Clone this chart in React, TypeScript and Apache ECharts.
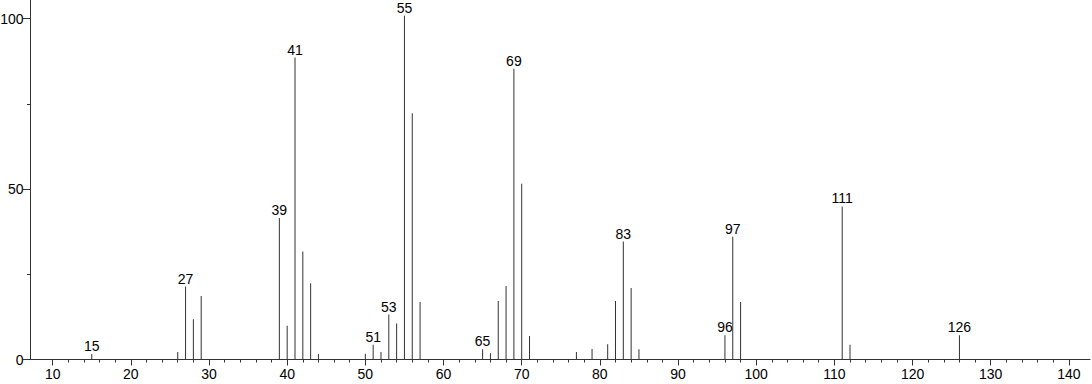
import { useEffect, useRef } from "react";
import * as echarts from "echarts";

// m/z values and relative intensities
const mz = [15, 26, 27, 28, 29, 39, 40, 41, 42, 43, 44, 50, 51, 52, 53, 54, 55, 56, 57, 65, 66, 67, 68, 69, 70, 71, 77, 79, 81, 82, 83, 84, 85, 96, 97, 98, 111, 112, 126];
const intensity = [1.6, 2.2, 21.4, 11.8, 18.6, 41.5, 9.9, 88.6, 31.7, 22.4, 1.6, 1.7, 4.3, 2.2, 13.2, 10.6, 100.9, 72.3, 16.9, 3.0, 1.8, 17.2, 21.6, 85.3, 51.6, 6.9, 2.2, 3.1, 4.5, 17.2, 34.6, 21.0, 3.0, 7.1, 36.0, 16.9, 44.9, 4.3, 7.1];
const labeledPeaks = [15, 27, 39, 41, 51, 53, 55, 65, 69, 83, 96, 97, 111, 126];

const xTickLabels = [10, 20, 30, 40, 50, 60, 70, 80, 90, 100, 110, 120, 130, 140];
const xMinorTicks = [12, 14, 16, 18, 22, 24, 26, 28, 32, 34, 36, 38, 42, 44, 46, 48, 52, 54, 56, 58, 62, 64, 66, 68, 72, 74, 76, 78, 82, 84, 86, 88, 92, 94, 96, 98, 102, 104, 106, 108, 112, 114, 116, 118, 122, 124, 126, 128, 132, 134, 136, 138];
const yTickLabels = [0, 50, 100];
const yMinorTicks = [25, 75];

const X_MIN = 7.1;
const X_MAX = 142.7;
const Y_MIN = 0;
const Y_MAX = 105.5;

const FONT = "'Liberation Sans', Arial, sans-serif";
const AXIS_COLOR = "#333";
const FONT_SIZE = 14;

export default function App() {
  const ref = useRef<HTMLDivElement>(null);

  useEffect(() => {
    if (!ref.current) return;
    const chart = echarts.init(ref.current, undefined, { renderer: "svg" });
    const option: any = {
      animation: false,
      backgroundColor: "#fff",
      grid: { left: 30, right: 2, top: 0, bottom: 24.5, containLabel: false, outerBoundsMode: "none" },
      xAxis: [
        {
          type: "value",
          position: "bottom",
          min: X_MIN,
          max: X_MAX,
          axisLine: { show: true, onZero: false, lineStyle: { color: AXIS_COLOR, width: 1 } },
          axisTick: { show: true, customValues: xTickLabels, length: 6, lineStyle: { color: AXIS_COLOR, width: 1 } },
          axisLabel: { show: true, customValues: xTickLabels, margin: 7, fontSize: FONT_SIZE, color: "#000", fontFamily: FONT },
          splitLine: { show: false },
        },
        {
          type: "value",
          position: "bottom",
          min: X_MIN,
          max: X_MAX,
          axisLine: { show: false, onZero: false },
          axisTick: { show: true, customValues: xMinorTicks, length: 3, lineStyle: { color: AXIS_COLOR, width: 1 } },
          axisLabel: { show: false },
          splitLine: { show: false },
        },
      ],
      yAxis: [
        {
          type: "value",
          position: "left",
          min: Y_MIN,
          max: Y_MAX,
          axisLine: { show: true, onZero: false, lineStyle: { color: AXIS_COLOR, width: 1 } },
          axisTick: { show: true, customValues: yTickLabels, length: 7, lineStyle: { color: AXIS_COLOR, width: 1 } },
          axisLabel: { show: true, customValues: yTickLabels, margin: 6.5, fontSize: FONT_SIZE, color: "#000", fontFamily: FONT },
          splitLine: { show: false },
        },
        {
          type: "value",
          position: "left",
          min: Y_MIN,
          max: Y_MAX,
          axisLine: { show: false, onZero: false },
          axisTick: { show: true, customValues: yMinorTicks, length: 3, lineStyle: { color: AXIS_COLOR, width: 1 } },
          axisLabel: { show: false },
          splitLine: { show: false },
        },
      ],
      series: [
        {
          type: "bar",
          xAxisIndex: 0,
          yAxisIndex: 0,
          barWidth: 1,
          silent: true,
          itemStyle: { color: "#333" },
          label: {
            position: "top",
            distance: 1,
            fontSize: FONT_SIZE,
            color: "#000",
            fontFamily: FONT,
            formatter: (p: any) => String(p.value[0]),
          },
          data: mz.map((m, i) => ({
            value: [m, intensity[i]],
            label: { show: labeledPeaks.includes(m) },
          })),
        },
      ],
    };
    chart.setOption(option);
    return () => chart.dispose();
  }, []);

  return (
    <div
      ref={ref}
      style={{ position: "fixed", left: 0, top: 0, width: 1092, height: 384, background: "#fff" }}
    />
  );
}
